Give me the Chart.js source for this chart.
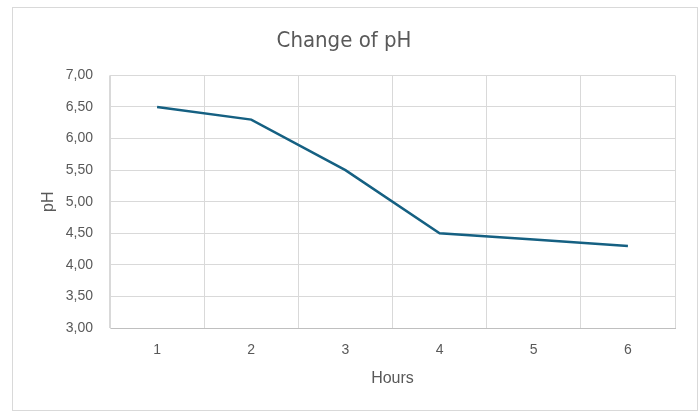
<!DOCTYPE html>
<html>
<head>
<meta charset="utf-8">
<script src="https://cdn.jsdelivr.net/npm/chart.js@4"></script>
<style>
    html, body { margin: 0; padding: 0; background: #fff; }
    #wrap {
        position: absolute; left: 12px; top: 7px;
        width: 684px; height: 402px;
        border: 1px solid #d9d9d9;
    }
</style>
</head>
<body>
<div id="wrap"><canvas id="phChart" width="684" height="402"></canvas></div>
<script>
const hours = ['1', '2', '3', '4', '5', '6'];
const phValues = [6.5, 6.3, 5.5, 4.5, 4.4, 4.3];
const yMin = 3, yMax = 7, yStep = 0.5;

const textColor = '#595959';
const gridColor = '#d9d9d9';
const narrow = "'Liberation Sans Narrow', 'DejaVu Sans Condensed', sans-serif";
const regular = "'Liberation Sans', Arial, sans-serif";

new Chart(document.getElementById('phChart'), {
    type: 'line',
    data: {
        labels: hours,
        datasets: [{
            label: 'pH',
            data: phValues,
            borderColor: '#156082',
            borderWidth: 2.5,
            pointRadius: 0,
            tension: 0,
            fill: false
        }]
    },
    options: {
        responsive: false,
        animation: false,
        layout: { padding: { left: 0, right: 22, top: 0, bottom: 0 } },
        plugins: {
            legend: { display: false },
            tooltip: { enabled: false },
            title: {
                display: true,
                text: 'Change of pH',
                color: textColor,
                font: { family: narrow, size: 22, weight: 'normal' },
                padding: { top: 20, bottom: 21 }
            }
        },
        scales: {
            x: {
                offset: true,
                grid: { color: gridColor, offset: true, drawTicks: false },
                border: { color: '#bfbfbf' },
                ticks: { color: textColor, font: { family: regular, size: 14 }, padding: 14, maxRotation: 0 },
                title: {
                    display: true, text: 'Hours', color: textColor,
                    font: { family: regular, size: 16 }, padding: { top: 0, bottom: 22 }
                },
                afterFit: s => { s.height = 82; }
            },
            y: {
                min: yMin, max: yMax,
                grid: { color: gridColor, drawTicks: false },
                border: { color: gridColor },
                ticks: {
                    stepSize: yStep, color: textColor, padding: 17,
                    font: { family: regular, size: 14 },
                    callback: v => v.toFixed(2).replace('.', ',')
                },
                title: {
                    display: true, text: 'pH', color: textColor,
                    font: { family: regular, size: 16 }, padding: { top: 26, bottom: 0 }
                },
                afterFit: s => { s.width = 97; }
            }
        }
    }
});
</script>
</body>
</html>
